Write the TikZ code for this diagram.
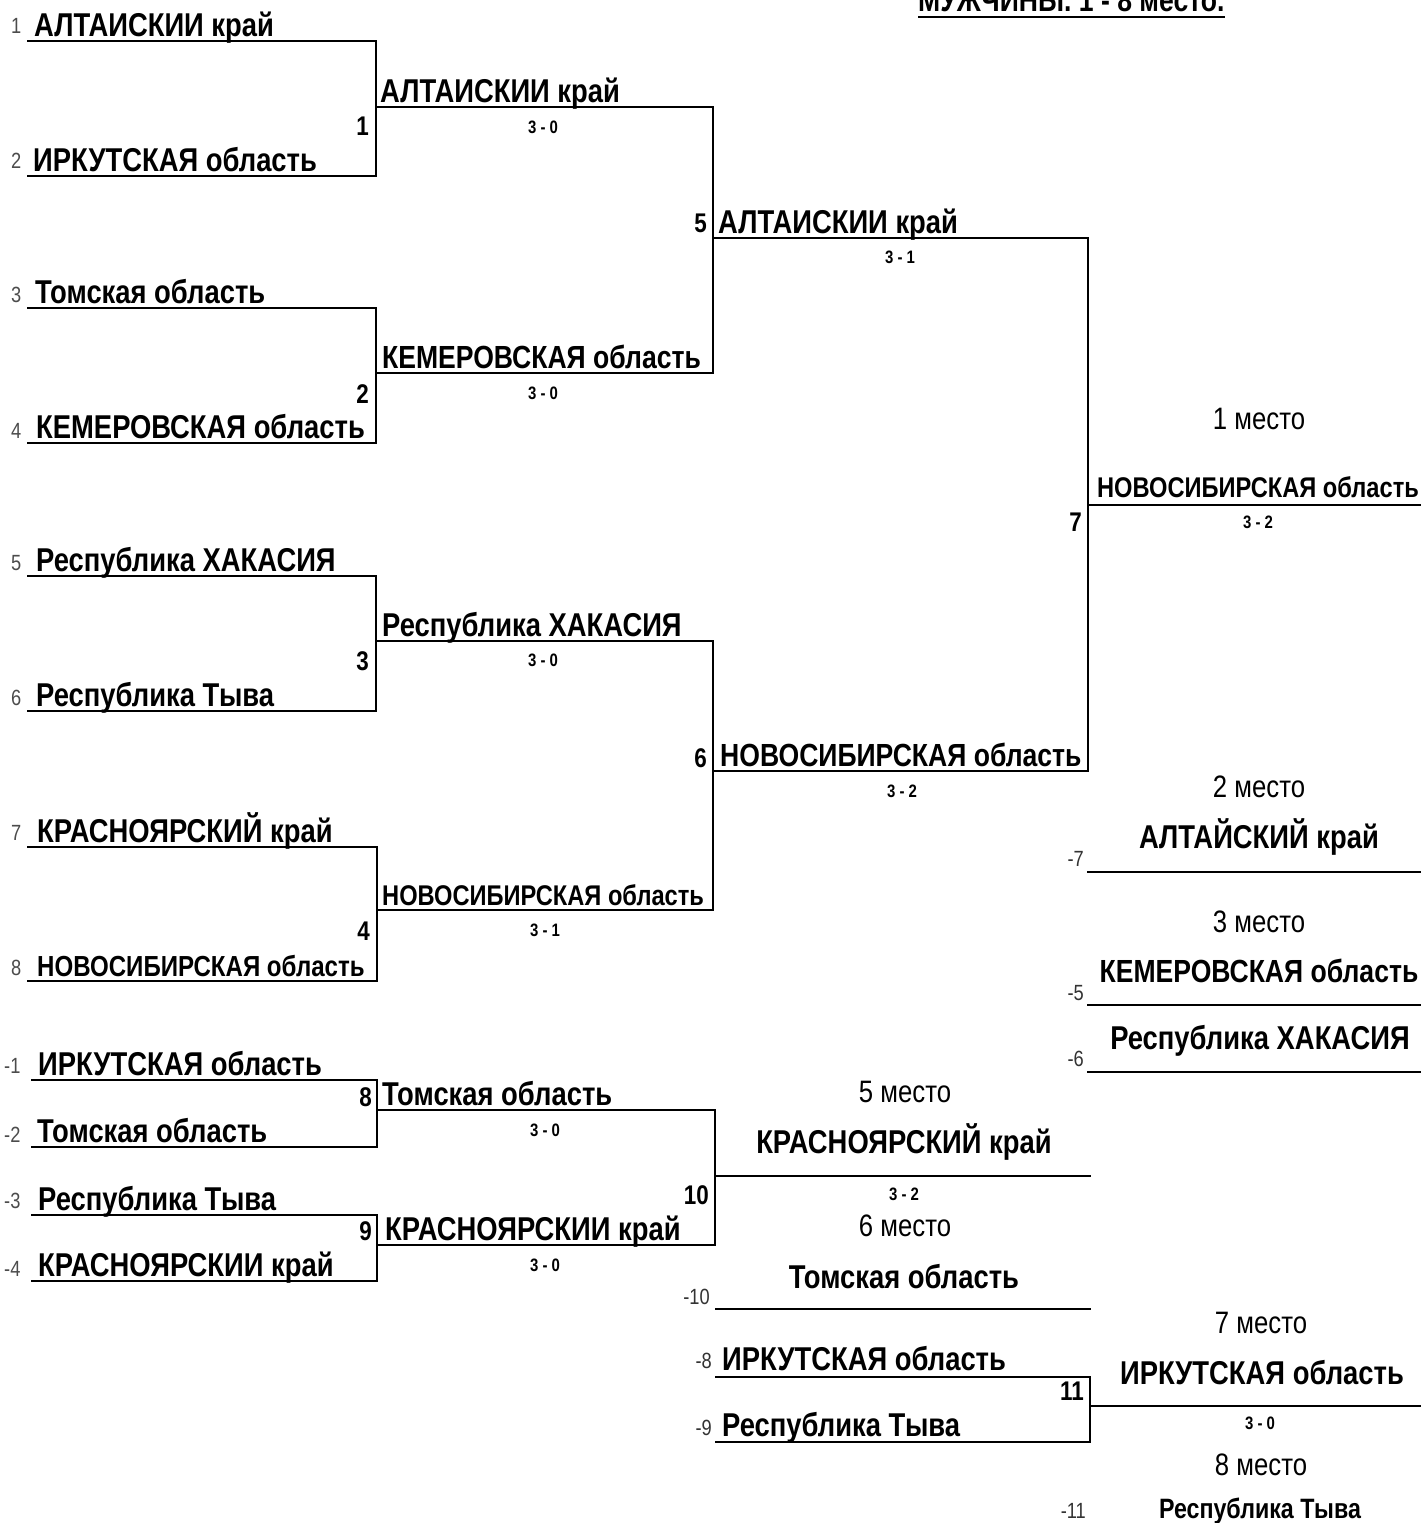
\documentclass[tikz,border=0pt]{standalone}
\usepackage{fontspec}
\setmainfont[FakeStretch=0.83]{Liberation Sans}
\newcommand\fsz[1]{\fontsize{#1}{#1}\selectfont}
\tikzset{
  br/.style={line width=2.3pt, line cap=rect},
  team/.style={anchor=base west, inner sep=0pt, font=\bfseries\fsz{33}},
  teamc/.style={anchor=base, inner sep=0pt, font=\bfseries\fsz{33}},
  seed/.style={anchor=base west, inner sep=0pt, text=black!70, font=\fsz{22}},
  seedr/.style={anchor=base east, inner sep=0pt, text=black!80, font=\fsz{22}},
  mnum/.style={anchor=base east, inner sep=0pt, font=\bfseries\fsz{27}},
  score/.style={anchor=base, inner sep=0pt, font=\bfseries\fsz{18}},
  place/.style={anchor=base, inner sep=0pt, font=\fsz{31}},
}
\begin{document}
\begin{tikzpicture}[x=1pt,y=-1pt]
\useasboundingbox (0,0) rectangle (1421,1523);
% title
\node[anchor=base west, inner sep=0pt, font=\bfseries\fsz{32}] (title) at (918,12) {МУЖЧИНЫ. 1 - 8 место.};
\draw[line width=1.6pt] ([yshift=-5pt]title.base west) -- ([yshift=-5pt]title.base east);

% coordinates: seed lines
\coordinate (s1) at (28,41);   \coordinate (s2) at (28,176);
\coordinate (s3) at (28,308);  \coordinate (s4) at (28,443);
\coordinate (s5) at (28,576);  \coordinate (s6) at (28,711);
\coordinate (s7) at (28,847);  \coordinate (s8) at (28,981);
\coordinate (l1) at (32,1080); \coordinate (l2) at (32,1147);
\coordinate (l3) at (32,1215); \coordinate (l4) at (32,1281);
% match junctions
\coordinate (m1) at (376,107);  \coordinate (w1) at (713,107);
\coordinate (m2) at (376,373);  \coordinate (w2) at (713,373);
\coordinate (m3) at (376,641);  \coordinate (w3) at (713,641);
\coordinate (m4) at (377,910);  \coordinate (w4) at (713,910);
\coordinate (m5) at (713,238);  \coordinate (w5) at (1088,238);
\coordinate (m6) at (713,771);  \coordinate (w6) at (1088,771);
\coordinate (m7) at (1088,505); \coordinate (w7) at (1421,505);
\coordinate (m8) at (377,1110); \coordinate (w8) at (715,1110);
\coordinate (m9) at (377,1245); \coordinate (w9) at (715,1245);
\coordinate (m10) at (715,1176); \coordinate (w10) at (1090,1176);
\coordinate (p2a) at (1088,872); \coordinate (p2b) at (1421,872);
\coordinate (p3a) at (1088,1005); \coordinate (p3b) at (1421,1005);
\coordinate (p4a) at (1088,1072); \coordinate (p4b) at (1421,1072);
\coordinate (p6a) at (716,1309); \coordinate (p6b) at (1090,1309);
\coordinate (q8) at (716,1377); \coordinate (q9) at (716,1442);
\coordinate (m11) at (1090,1406); \coordinate (w11) at (1421,1406);

% bracket lines
\draw[br] (s1) -| (m1) -- (w1) -- (m5) -- (w5) -- (m7) -- (w7);
\draw[br] (s2) -| (m1);
\draw[br] (s3) -| (m2) -- (w2) -- (m5);
\draw[br] (s4) -| (m2);
\draw[br] (s5) -| (m3) -- (w3) -- (m6) -- (w6) -- (m7);
\draw[br] (s6) -| (m3);
\draw[br] (s7) -| (m4) -- (w4) -- (m6);
\draw[br] (s8) -| (m4);
\draw[br] (l1) -| (m8) -- (w8) -- (m10) -- (w10);
\draw[br] (l2) -| (m8);
\draw[br] (l3) -| (m9) -- (w9) -- (m10);
\draw[br] (l4) -| (m9);
\draw[br] (p2a) -- (p2b);
\draw[br] (p3a) -- (p3b);
\draw[br] (p4a) -- (p4b);
\draw[br] (p6a) -- (p6b);
\draw[br] (q8) -| (m11) -- (w11);
\draw[br] (q9) -| (m11);

% seed numbers
\node[seed] (n1) at (11,33) {1};
\node[seed] (n2) at (11,168) {2};
\node[seed] (n3) at (11,302) {3};
\node[seed] (n4) at (11,438) {4};
\node[seed] (n5) at (11,570) {5};
\node[seed] (n6) at (11,705) {6};
\node[seed] (n7) at (11,840) {7};
\node[seed] (n8) at (11,975) {8};
\node[seed] (nm1) at (4,1073) {-1};
\node[seed] (nm2) at (4,1142) {-2};
\node[seed] (nm3) at (4,1208) {-3};
\node[seed] (nm4) at (4,1276) {-4};

% seed teams
\node[team] (t1) at (34,36) {АЛТАИСКИИ край};
\node[team] (t2) at (33,171) {ИРКУТСКАЯ область};
\node[team] (t3) at (35,303) {Томская область};
\node[team] (t4) at (36,438) {КЕМЕРОВСКАЯ область};
\node[team] (t5) at (36,571) {Республика ХАКАСИЯ};
\node[team] (t6) at (36,706) {Республика Тыва};
\node[team] (t7) at (37,842) {КРАСНОЯРСКИЙ край};
\node[team, font=\bfseries\fsz{29}] (t8) at (37,976) {НОВОСИБИРСКАЯ область};
\node[team] (tm1) at (38,1075) {ИРКУТСКАЯ область};
\node[team] (tm2) at (37,1142) {Томская область};
\node[team] (tm3) at (38,1210) {Республика Тыва};
\node[team] (tm4) at (38,1276) {КРАСНОЯРСКИИ край};

% match numbers
\node[mnum] (k1) at (369,135) {1};
\node[mnum] (k2) at (369,403) {2};
\node[mnum] (k3) at (369,670) {3};
\node[mnum] (k4) at (370,940) {4};
\node[mnum] (k5) at (707,232) {5};
\node[mnum] (k6) at (707,767) {6};
\node[mnum] (k7) at (1082,531) {7};
\node[mnum] (k8) at (372,1106) {8};
\node[mnum] (k9) at (372,1240) {9};
\node[mnum] (k10) at (709,1204) {10};
\node[mnum] (k11) at (1084,1400) {11};

% round 2 winners
\node[team] (r1) at (380,102) {АЛТАИСКИИ край};
\node[team, font=\bfseries\fsz{32}] (r2) at (382,368) {КЕМЕРОВСКАЯ область};
\node[team] (r3) at (382,636) {Республика ХАКАСИЯ};
\node[team, font=\bfseries\fsz{28.5}] (r4) at (382,905) {НОВОСИБИРСКАЯ область};
\node[team] (r8) at (382,1105) {Томская область};
\node[team] (r9) at (385,1240) {КРАСНОЯРСКИИ край};
\node[score] (c1) at (543,133) {3 - 0};
\node[score] (c2) at (543,399) {3 - 0};
\node[score] (c3) at (543,666) {3 - 0};
\node[score] (c4) at (545,936) {3 - 1};
\node[score] (c8) at (545,1136) {3 - 0};
\node[score] (c9) at (545,1271) {3 - 0};

% round 3 winners
\node[team] (r5) at (718,233) {АЛТАИСКИИ край};
\node[team, font=\bfseries\fsz{32}] (r6) at (720,766) {НОВОСИБИРСКАЯ область};
\node[score] (c5) at (900,263) {3 - 1};
\node[score] (c6) at (902,797) {3 - 2};

% final places
\node[place] (pl1) at (1259,429) {1 место};
\node[teamc, font=\bfseries\fsz{28.5}] (f1) at (1258,497) {НОВОСИБИРСКАЯ область};
\node[score] (c7) at (1258,528) {3 - 2};
\node[place] (pl2) at (1259,797) {2 место};
\node[teamc] (f2) at (1259,848) {АЛТАЙСКИЙ край};
\node[seedr] (x7) at (1084,866) {-7};
\node[place] (pl3) at (1259,932) {3 место};
\node[teamc, font=\bfseries\fsz{32}] (f3) at (1259,982) {КЕМЕРОВСКАЯ область};
\node[seedr] (x5) at (1084,1000) {-5};
\node[teamc] (f4) at (1260,1049) {Республика ХАКАСИЯ};
\node[seedr] (x6) at (1084,1066) {-6};

\node[place] (pl5) at (905,1102) {5 место};
\node[teamc] (f5) at (904,1153) {КРАСНОЯРСКИЙ край};
\node[score] (c10) at (904,1200) {3 - 2};
\node[place] (pl6) at (905,1236) {6 место};
\node[teamc] (f6) at (904,1288) {Томская область};
\node[seedr] (x10) at (710,1304) {-10};

\node[seedr] (x8) at (712,1368) {-8};
\node[team] (g8) at (722,1370) {ИРКУТСКАЯ область};
\node[seedr] (x9) at (712,1435) {-9};
\node[team] (g9) at (722,1436) {Республика Тыва};

\node[place] (pl7) at (1261,1333) {7 место};
\node[teamc] (f7) at (1262,1384) {ИРКУТСКАЯ область};
\node[score] (c11) at (1260,1429) {3 - 0};
\node[place] (pl8) at (1261,1475) {8 место};
\node[teamc, font=\bfseries\fsz{28}] (f8) at (1260,1518) {Республика Тыва};
\node[seedr] (x11) at (1086,1518) {-11};
\end{tikzpicture}
\end{document}
